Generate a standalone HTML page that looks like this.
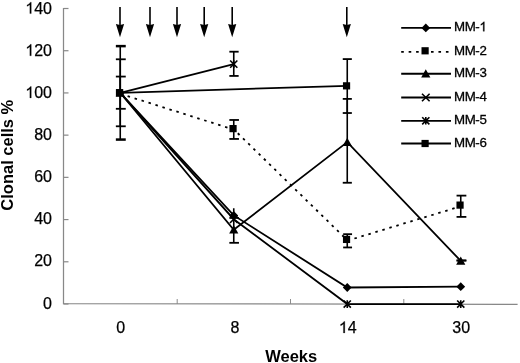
<!DOCTYPE html>
<html><head><meta charset="utf-8"><style>
html,body{margin:0;padding:0;background:#fff;}
svg{display:block;will-change:transform;}
.t{font-family:"Liberation Sans",sans-serif;font-size:16px;fill:#000;stroke:#000;stroke-width:0.25px;}
.b{font-family:"Liberation Sans",sans-serif;font-size:16.5px;font-weight:bold;fill:#000;}
.l{font-family:"Liberation Sans",sans-serif;font-size:13.3px;letter-spacing:-0.4px;fill:#000;stroke:#000;stroke-width:0.3px;}
</style></head><body>
<svg width="520" height="363" viewBox="0 0 520 363">
<path d="M63.5 8 V303.55 L517.6 304.35" fill="none" stroke="#888" stroke-width="1.25"/>
<path d="M63.5 304.00 H68.5" stroke="#888" stroke-width="1.2"/>
<path d="M63.5 261.79 H68.5" stroke="#888" stroke-width="1.2"/>
<path d="M63.5 219.57 H68.5" stroke="#888" stroke-width="1.2"/>
<path d="M63.5 177.36 H68.5" stroke="#888" stroke-width="1.2"/>
<path d="M63.5 135.14 H68.5" stroke="#888" stroke-width="1.2"/>
<path d="M63.5 92.93 H68.5" stroke="#888" stroke-width="1.2"/>
<path d="M63.5 50.72 H68.5" stroke="#888" stroke-width="1.2"/>
<path d="M63.5 8.50 H68.5" stroke="#888" stroke-width="1.2"/>
<path d="M177.2 304 V299" stroke="#8c8c8c" stroke-width="1"/>
<path d="M290.5 304 V299" stroke="#8c8c8c" stroke-width="1"/>
<path d="M403.8 304 V299" stroke="#8c8c8c" stroke-width="1"/>
<text x="43.10" y="308.60" class="t">0</text>
<text x="34.20" y="266.46" class="t">20</text>
<text x="34.20" y="224.32" class="t">40</text>
<text x="34.20" y="182.17" class="t">60</text>
<text x="34.20" y="140.03" class="t">80</text>
<text x="25.30" y="97.89" class="t"> 00</text>
<path d="M763 0L583 0L583 1147Q518 1085 415 1024Q312 963 223 930L223 1104Q374 1175 486.5 1275.5Q599 1376 659 1466L763 1466Z" transform="translate(25.30 97.89) scale(0.007812 -0.007812)" fill="#000" stroke="#000" stroke-width="32.0"/>
<text x="25.30" y="55.75" class="t"> 20</text>
<path d="M763 0L583 0L583 1147Q518 1085 415 1024Q312 963 223 930L223 1104Q374 1175 486.5 1275.5Q599 1376 659 1466L763 1466Z" transform="translate(25.30 55.75) scale(0.007812 -0.007812)" fill="#000" stroke="#000" stroke-width="32.0"/>
<text x="25.30" y="13.61" class="t"> 40</text>
<path d="M763 0L583 0L583 1147Q518 1085 415 1024Q312 963 223 930L223 1104Q374 1175 486.5 1275.5Q599 1376 659 1466L763 1466Z" transform="translate(25.30 13.61) scale(0.007812 -0.007812)" fill="#000" stroke="#000" stroke-width="32.0"/>
<text x="116.30" y="332.90" class="t">0</text>
<text x="230.50" y="332.90" class="t">8</text>
<text x="338.85" y="332.90" class="t"> 4</text>
<path d="M763 0L583 0L583 1147Q518 1085 415 1024Q312 963 223 930L223 1104Q374 1175 486.5 1275.5Q599 1376 659 1466L763 1466Z" transform="translate(338.85 332.90) scale(0.007812 -0.007812)" fill="#000" stroke="#000" stroke-width="32.0"/>
<text x="452.35" y="332.90" class="t">30</text>
<text x="291.2" y="361.9" text-anchor="middle" class="b">Weeks</text>
<text transform="translate(12.8 155.2) rotate(-90)" text-anchor="middle" class="b">Clonal cells %</text>
<path d="M120 7 V26" stroke="#000" stroke-width="1.6"/>
<path d="M115.9 24.1 L120 24.9 L124.1 24.1 L120 37.2 Z" fill="#000"/>
<path d="M150 7 V26" stroke="#000" stroke-width="1.6"/>
<path d="M145.9 24.1 L150 24.9 L154.1 24.1 L150 37.2 Z" fill="#000"/>
<path d="M177 7 V26" stroke="#000" stroke-width="1.6"/>
<path d="M172.9 24.1 L177 24.9 L181.1 24.1 L177 37.2 Z" fill="#000"/>
<path d="M204.2 7 V26" stroke="#000" stroke-width="1.6"/>
<path d="M200.1 24.1 L204.2 24.9 L208.29999999999998 24.1 L204.2 37.2 Z" fill="#000"/>
<path d="M232.2 7 V26" stroke="#000" stroke-width="1.6"/>
<path d="M228.1 24.1 L232.2 24.9 L236.29999999999998 24.1 L232.2 37.2 Z" fill="#000"/>
<path d="M346.8 7 V26" stroke="#000" stroke-width="1.6"/>
<path d="M342.7 24.1 L346.8 24.9 L350.90000000000003 24.1 L346.8 37.2 Z" fill="#000"/>
<path d="M120.25 139.57 V46.12" stroke="#000" stroke-width="1.6" fill="none"/>
<path d="M115.85 139.57 H125.75" stroke="#000" stroke-width="2.5"/>
<path d="M115.85 46.12 H125.75" stroke="#000" stroke-width="2.5"/>
<path d="M120.25 126.29 V59.29" stroke="#000" stroke-width="1.6" fill="none"/>
<path d="M115.85 126.29 H125.75" stroke="#000" stroke-width="1.8"/>
<path d="M115.85 59.29 H125.75" stroke="#000" stroke-width="1.8"/>
<path d="M120.25 108.80 V76.57" stroke="#000" stroke-width="1.6" fill="none"/>
<path d="M115.85 108.80 H125.75" stroke="#000" stroke-width="1.8"/>
<path d="M115.85 76.57 H125.75" stroke="#000" stroke-width="1.8"/>
<path d="M233.75 75.93 V51.70" stroke="#000" stroke-width="1.6" fill="none"/>
<path d="M229.35 75.93 H238.65" stroke="#000" stroke-width="1.8"/>
<path d="M229.35 51.70 H238.65" stroke="#000" stroke-width="1.8"/>
<path d="M233.75 138.94 V119.97" stroke="#000" stroke-width="1.6" fill="none"/>
<path d="M229.35 138.94 H238.95" stroke="#000" stroke-width="1.8"/>
<path d="M229.35 119.97 H238.95" stroke="#000" stroke-width="1.8"/>
<path d="M233.75 242.82 V217.95" stroke="#000" stroke-width="1.6" fill="none"/>
<path d="M229.35 242.82 H238.95" stroke="#000" stroke-width="1.8"/>
<path d="M229.35 217.95 H238.95" stroke="#000" stroke-width="1.8"/>
<path d="M233.75 208.26 V217.11" stroke="#000" stroke-width="1.6"/>
<path d="M347.25 113.02 V59.08" stroke="#000" stroke-width="1.6" fill="none"/>
<path d="M342.75 113.02 H351.85" stroke="#000" stroke-width="1.8"/>
<path d="M342.75 59.08 H351.85" stroke="#000" stroke-width="1.8"/>
<path d="M347.25 182.76 V98.90" stroke="#000" stroke-width="1.6" fill="none"/>
<path d="M342.75 182.76 H351.85" stroke="#000" stroke-width="1.8"/>
<path d="M342.75 98.90 H351.85" stroke="#000" stroke-width="1.8"/>
<path d="M347.25 247.45 V234.18" stroke="#000" stroke-width="1.6" fill="none"/>
<path d="M343.15 247.45 H352.05" stroke="#000" stroke-width="1.8"/>
<path d="M343.15 234.18 H352.05" stroke="#000" stroke-width="1.8"/>
<path d="M460.75 216.90 V195.62" stroke="#000" stroke-width="1.6" fill="none"/>
<path d="M456.55 216.90 H466.35" stroke="#000" stroke-width="1.8"/>
<path d="M456.55 195.62 H466.35" stroke="#000" stroke-width="1.8"/>
<path d="M460.75 260.62 V260.41" stroke="#000" stroke-width="1.6" fill="none"/>
<path d="M456.55 260.62 H466.35" stroke="#000" stroke-width="1.8"/>
<path d="M456.55 260.41 H466.35" stroke="#000" stroke-width="1.8"/>
<path d="M120.25 92.79 L233.75 215.42 L347.25 287.49 L460.75 286.64" fill="none" stroke="#000" stroke-width="1.8"/>
<path d="M120.25 92.79 L233.75 128.61 L347.25 239.44 L460.75 205.10" fill="none" stroke="#000" stroke-width="1.8" stroke-dasharray="2.5 4.8" transform="translate(0.4 1.1)"/>
<path d="M120.25 92.79 L233.75 229.75 L347.25 142.10 L460.75 260.94" fill="none" stroke="#000" stroke-width="1.8"/>
<path d="M120.25 92.79 L233.75 219.22 L347.25 304.09 L460.75 304.09" fill="none" stroke="#000" stroke-width="1.8"/>
<path d="M120.25 92.79 L233.75 64.13" fill="none" stroke="#000" stroke-width="1.8"/>
<path d="M120.25 92.79 L347.25 85.84" fill="none" stroke="#000" stroke-width="1.8"/>
<path d="M120.25 88.38999999999999 L124.65 92.78999999999999 L120.25 97.19 L115.85 92.78999999999999 Z" fill="#000"/>
<path d="M233.75 211.02322 L238.15 215.42322000000001 L233.75 219.82322000000002 L229.35 215.42322000000001 Z" fill="#000"/>
<path d="M347.25 283.08604 L351.65 287.48604 L347.25 291.88604 L342.85 287.48604 Z" fill="#000"/>
<path d="M460.75 282.2432 L465.15 286.6432 L460.75 291.04319999999996 L456.35 286.6432 Z" fill="#000"/>
<rect x="115.95" y="89.19" width="7.2" height="7.2" fill="#000"/>
<rect x="229.45" y="125.01" width="7.2" height="7.2" fill="#000"/>
<rect x="342.95" y="235.84" width="7.2" height="7.2" fill="#000"/>
<rect x="456.45" y="201.50" width="7.2" height="7.2" fill="#000"/>
<path d="M120.25 88.38999999999999 L124.85 96.58999999999999 L115.65 96.58999999999999 Z" fill="#000"/>
<path d="M233.75 225.35150000000002 L238.35 233.55150000000003 L229.15 233.55150000000003 Z" fill="#000"/>
<path d="M347.25 137.69614 L351.85 145.89614000000003 L342.65 145.89614000000003 Z" fill="#000"/>
<path d="M460.75 256.53658 L465.35 264.73658 L456.15 264.73658 Z" fill="#000"/>
<path d="M229.95 215.416 L237.55 223.01600000000002 M237.55 215.416 L229.95 223.01600000000002" stroke="#000" stroke-width="1.6"/>
<path d="M343.65 300.489988 L350.85 307.689988 M350.85 300.489988 L343.65 307.689988 M347.25 300.289988 V307.889988" stroke="#000" stroke-width="1.6"/>
<path d="M457.15 300.489988 L464.35 307.689988 M464.35 300.489988 L457.15 307.689988 M460.75 300.289988 V307.889988" stroke="#000" stroke-width="1.6"/>
<path d="M230.15 60.533440000000006 L237.35 67.73344 M237.35 60.533440000000006 L230.15 67.73344 M233.75 60.33344000000001 V67.93344" stroke="#000" stroke-width="1.6"/>
<rect x="115.95" y="89.19" width="7.2" height="7.2" fill="#000"/>
<rect x="342.95" y="82.24" width="7.2" height="7.2" fill="#000"/>
<path d="M401.2 27.9 H451" stroke="#000" stroke-width="1.8"/>
<path d="M425.8 23.5 L430.2 27.9 L425.8 32.3 L421.40000000000003 27.9 Z" fill="#000"/>
<text x="454.00" y="31.30" class="l">MM- </text>
<path d="M763 0L583 0L583 1147Q518 1085 415 1024Q312 963 223 930L223 1104Q374 1175 486.5 1275.5Q599 1376 659 1466L763 1466Z" transform="translate(479.39 31.30) scale(0.006494 -0.006494)" fill="#000" stroke="#000" stroke-width="46.2"/>
<path d="M401.2 51.9 H451" stroke="#000" stroke-width="1.8" stroke-dasharray="2.6 4.85"/>
<rect x="421.50" y="47.20" width="7.2" height="7.2" fill="#000"/>
<text x="454.00" y="55.20" class="l">MM-2</text>
<path d="M401.2 73.75 H451" stroke="#000" stroke-width="1.8"/>
<path d="M425.8 69.35 L430.40000000000003 77.55 L421.2 77.55 Z" fill="#000"/>
<text x="454.00" y="77.15" class="l">MM-3</text>
<path d="M401.2 97.5 H451" stroke="#000" stroke-width="1.8"/>
<path d="M422.0 93.7 L429.6 101.3 M429.6 93.7 L422.0 101.3" stroke="#000" stroke-width="1.6"/>
<text x="454.00" y="100.90" class="l">MM-4</text>
<path d="M401.2 120.8 H451" stroke="#000" stroke-width="1.8"/>
<path d="M422.2 117.2 L429.40000000000003 124.39999999999999 M429.40000000000003 117.2 L422.2 124.39999999999999 M425.8 117.0 V124.6" stroke="#000" stroke-width="1.6"/>
<text x="454.00" y="124.20" class="l">MM-5</text>
<path d="M401.2 143.5 H451" stroke="#000" stroke-width="1.8"/>
<rect x="421.50" y="139.90" width="7.2" height="7.2" fill="#000"/>
<text x="454.00" y="146.90" class="l">MM-6</text>
</svg>
</body></html>
